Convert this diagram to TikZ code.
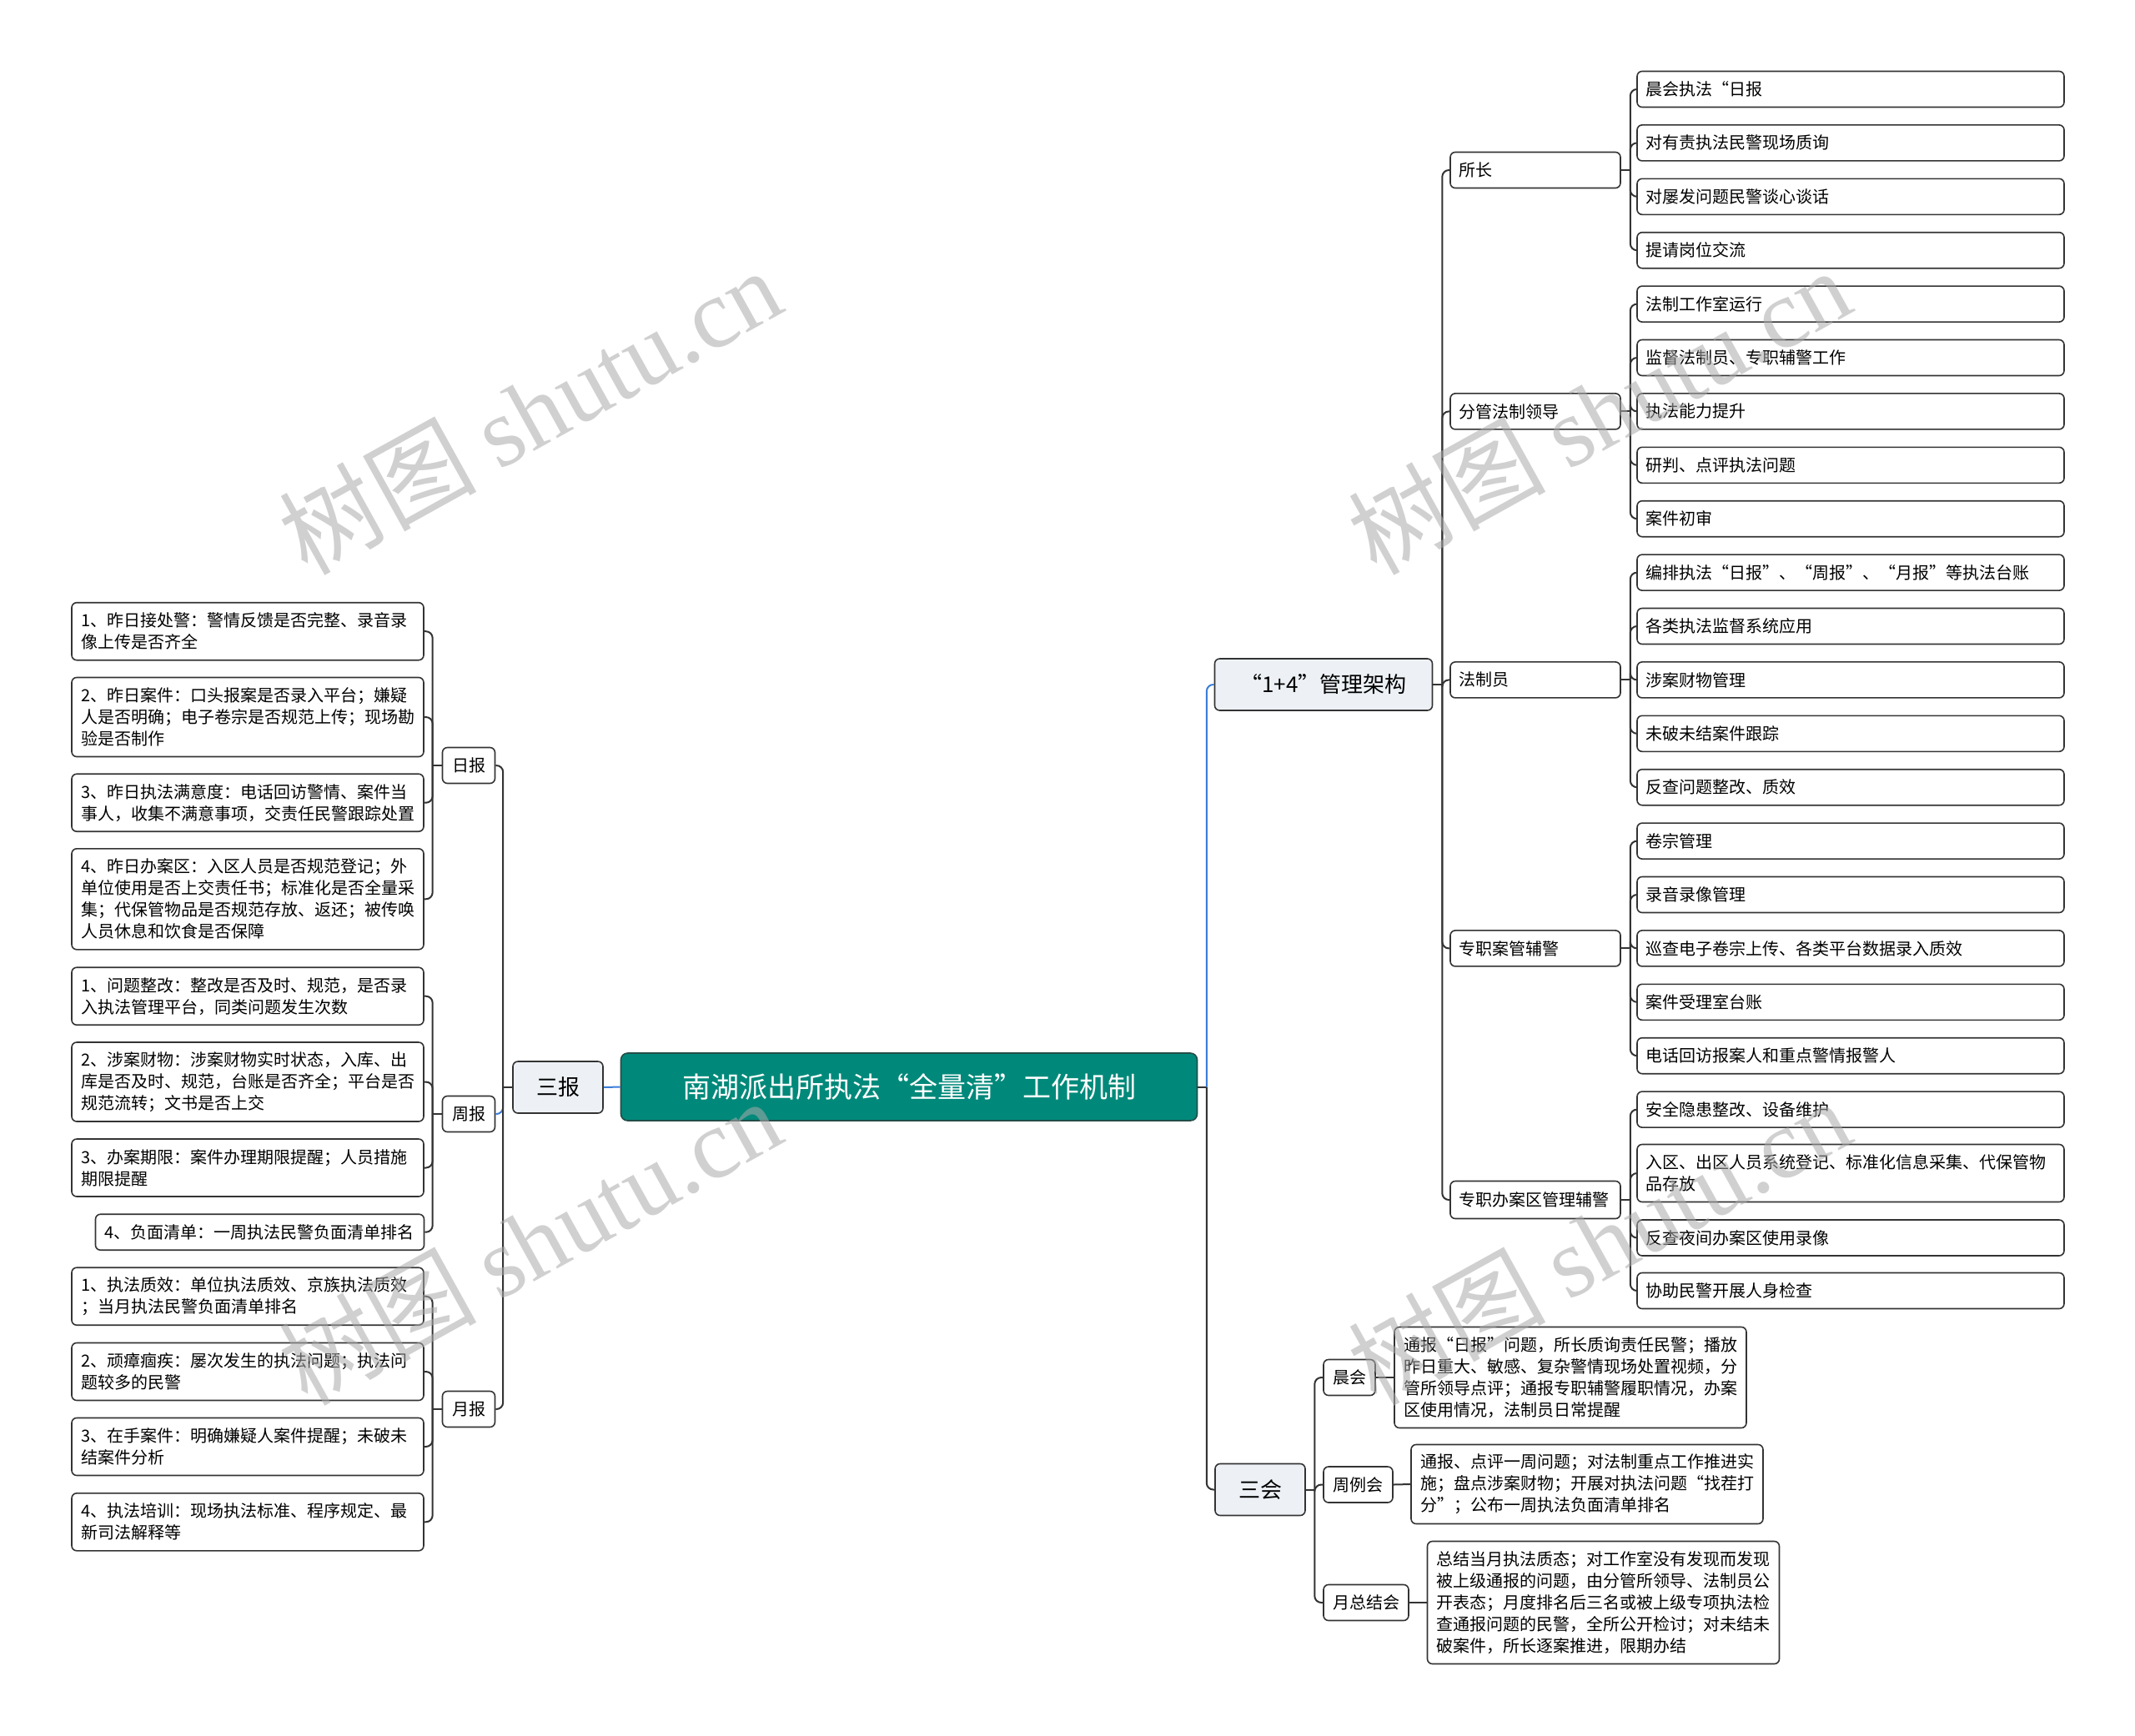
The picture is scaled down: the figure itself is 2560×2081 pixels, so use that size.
\documentclass[tikz,border=0pt]{standalone}
\usepackage{fontspec}
\setmainfont{Noto Sans CJK SC}
\newfontfamily\wmlatin{Liberation Serif}
\usetikzlibrary{calc}
\definecolor{lineDark}{HTML}{333333}
\definecolor{lineBlue}{HTML}{3B7DD8}
\definecolor{rootFill}{HTML}{00897A}
\definecolor{mainFill}{HTML}{EDF1F6}
\definecolor{wmGray}{HTML}{ABABAB}
\tikzset{
  basebox/.style={draw=lineDark, line width=1.6pt, rounded corners=6pt, inner sep=0pt, fill=white},
  leafbox/.style 2 args={basebox, font=\fontsize{20}{26}\selectfont, align=left,
     inner xsep=11pt, text width=#1, minimum height=#2},
  midbox/.style={basebox, font=\fontsize{20}{26}\selectfont, minimum width=#1, minimum height=43pt},
  mainbox/.style={basebox, fill=mainFill, font=\fontsize{26}{30}\selectfont, minimum width=#1, minimum height=62pt},
  conn/.style={draw=lineDark, line width=2pt},
  blueconn/.style={draw=lineBlue, line width=2pt},
  rc/.style={rounded corners=8pt},
  wm/.style={text=wmGray, text opacity=0.55, font=\fontsize{118}{118}\selectfont, rotate=29, anchor=base, inner sep=0pt}
}
\begin{document}
\begin{tikzpicture}[x=1pt,y=-1pt]
\fill[white] (0,0) rectangle (2560,2081);
\useasboundingbox (0,0) rectangle (2560,2081);

% root and main branches
\node[basebox, fill=rootFill, draw=lineDark!70!rootFill, rounded corners=8pt, text=white,
      font=\fontsize{34}{40}\selectfont, minimum width=691pt, minimum height=81pt]
      (root) at (1090,1303.5) {南湖派出所执法“全量清”工作机制};
\node[mainbox=108pt] (sanbao) at (669,1304) {三报};
\node[mainbox=261pt] (p14) at (1587,821) {“1+4”管理架构};
\node[mainbox=108pt] (sanhui) at (1511,1786.5) {三会};

% left: 三报
\node[midbox=63pt] (ribao) at (562,918) {日报};
\node[midbox=63pt] (zhoubao) at (562,1336) {周报};
\node[midbox=63pt] (yuebao) at (562,1690) {月报};

\node[leafbox={400pt}{69pt}] (d1) at (297,757.2) {1、昨日接处警：警情反馈是否完整、录音录\\像上传是否齐全};
\node[leafbox={400pt}{95pt}] (d2) at (297,860) {2、昨日案件：口头报案是否录入平台；嫌疑\\人是否明确；电子卷宗是否规范上传；现场勘\\验是否制作};
\node[leafbox={400pt}{69pt}] (d3) at (297,962.7) {3、昨日执法满意度：电话回访警情、案件当\\事人，收集不满意事项，交责任民警跟踪处置};
\node[leafbox={400pt}{121pt}] (d4) at (297,1078.3) {4、昨日办案区：入区人员是否规范登记；外\\单位使用是否上交责任书；标准化是否全量采\\集；代保管物品是否规范存放、返还；被传唤\\人员休息和饮食是否保障};

\node[leafbox={400pt}{69pt}] (w1) at (297,1194.7) {1、问题整改：整改是否及时、规范，是否录\\入执法管理平台，同类问题发生次数};
\node[leafbox={400pt}{95pt}] (w2) at (297,1297.5) {2、涉案财物：涉案财物实时状态，入库、出\\库是否及时、规范，台账是否齐全；平台是否\\规范流转；文书是否上交};
\node[leafbox={400pt}{69pt}] (w3) at (297,1400.5) {3、办案期限：案件办理期限提醒；人员措施\\期限提醒};
\node[leafbox={372pt}{43pt}] (w4) at (311.5,1477.7) {4、负面清单：一周执法民警负面清单排名};

\node[leafbox={400pt}{69pt}] (m1) at (297,1554.7) {1、执法质效：单位执法质效、京族执法质效\\；当月执法民警负面清单排名};
\node[leafbox={400pt}{69pt}] (m2) at (297,1645) {2、顽瘴痼疾：屡次发生的执法问题；执法问\\题较多的民警};
\node[leafbox={400pt}{69pt}] (m3) at (297,1735) {3、在手案件：明确嫌疑人案件提醒；未破未\\结案件分析};
\node[leafbox={400pt}{69pt}] (m4) at (297,1825.3) {4、执法培训：现场执法标准、程序规定、最\\新司法解释等};

% right: 1+4
\node[leafbox={183pt}{43pt}, inner xsep=10.5pt] (sz) at (1841,204) {所长};
\node[leafbox={183pt}{43pt}, inner xsep=10.5pt] (fg) at (1841,493.4) {分管法制领导};
\node[leafbox={183pt}{43pt}, inner xsep=10.5pt] (fzy) at (1841,815.4) {法制员};
\node[leafbox={183pt}{43pt}, inner xsep=10.5pt] (ag) at (1841,1137.4) {专职案管辅警};
\node[leafbox={183pt}{45pt}, inner xsep=10.5pt] (baq) at (1841,1439) {专职办案区管理辅警};

\tikzset{rleaf/.style={leafbox={492pt}{43pt}, inner xsep=10pt}}
\node[rleaf] (r0) at (2219,107) {晨会执法“日报};
\node[rleaf] (r1) at (2219,171.4) {对有责执法民警现场质询};
\node[rleaf] (r2) at (2219,235.8) {对屡发问题民警谈心谈话};
\node[rleaf] (r3) at (2219,300.2) {提请岗位交流};
\node[rleaf] (r4) at (2219,364.6) {法制工作室运行};
\node[rleaf] (r5) at (2219,429) {监督法制员、专职辅警工作};
\node[rleaf] (r6) at (2219,493.4) {执法能力提升};
\node[rleaf] (r7) at (2219,557.8) {研判、点评执法问题};
\node[rleaf] (r8) at (2219,622.2) {案件初审};
\node[rleaf] (r9) at (2219,686.6) {编排执法“日报”、“周报”、“月报”等执法台账};
\node[rleaf] (r10) at (2219,751) {各类执法监督系统应用};
\node[rleaf] (r11) at (2219,815.4) {涉案财物管理};
\node[rleaf] (r12) at (2219,879.8) {未破未结案件跟踪};
\node[rleaf] (r13) at (2219,944.2) {反查问题整改、质效};
\node[rleaf] (r14) at (2219,1008.6) {卷宗管理};
\node[rleaf] (r15) at (2219,1073) {录音录像管理};
\node[rleaf] (r16) at (2219,1137.4) {巡查电子卷宗上传、各类平台数据录入质效};
\node[rleaf] (r17) at (2219,1201.8) {案件受理室台账};
\node[rleaf] (r18) at (2219,1266.2) {电话回访报案人和重点警情报警人};
\node[rleaf] (r19) at (2219,1330.6) {安全隐患整改、设备维护};
\node[rleaf, minimum height=69pt] (r20) at (2219,1407) {入区、出区人员系统登记、标准化信息采集、代保管物\\品存放};
\node[rleaf] (r21) at (2219,1484.5) {反查夜间办案区使用录像};
\node[rleaf] (r22) at (2219,1548) {协助民警开展人身检查};

% right: 三会
\node[midbox=62pt] (chenhui) at (1618,1652) {晨会};
\node[midbox=83pt] (zhouli) at (1628.5,1780.5) {周例会};
\node[midbox=102pt] (yuezong) at (1638,1922) {月总结会};
\node[leafbox={400pt}{121pt}] (chC) at (1883,1652) {通报“日报”问题，所长质询责任民警；播放\\昨日重大、敏感、复杂警情现场处置视频，分\\管所领导点评；通报专职辅警履职情况，办案\\区使用情况，法制员日常提醒};
\node[leafbox={400pt}{95pt}] (zlC) at (1903,1780) {通报、点评一周问题；对法制重点工作推进实\\施；盘点涉案财物；开展对执法问题“找茬打\\分”；公布一周执法负面清单排名};
\node[leafbox={400pt}{147pt}] (yzC) at (1922.5,1922) {总结当月执法质态；对工作室没有发现而发现\\被上级通报的问题，由分管所领导、法制员公\\开表态；月度排名后三名或被上级专项执法检\\查通报问题的民警，全所公开检讨；对未结未\\破案件，所长逐案推进，限期办结};

% ---------- connectors ----------
% root to main branches
\draw[blueconn] (root.west) -- (sanbao.east);
\draw[conn] (root.east) -- ++(10.5,0) coordinate (rtJ);
\draw[conn, rc] (rtJ) |- (sanhui.west);
\draw[blueconn, rc] (rtJ) |- (p14.west);

% 三报
\draw[conn] (sanbao.west) -- ++(-11,0) coordinate (sbJ);
\draw[blueconn, rc] (sbJ) |- (zhoubao.east);
\draw[conn, rc] (sbJ) |- (ribao.east);
\draw[conn, rc] (sbJ) |- (yuebao.east);

\draw[conn] (ribao.west) -- ++(-11,0) coordinate (rbJ);
\foreach \c in {d1,d2,d3,d4} \draw[conn, rc] (rbJ) |- (\c.east);
\draw[conn] (zhoubao.west) -- ++(-11,0) coordinate (zbJ);
\foreach \c in {w1,w2,w3,w4} \draw[conn, rc] (zbJ) |- (\c.east);
\draw[conn] (yuebao.west) -- ++(-11,0) coordinate (ybJ);
\foreach \c in {m1,m2,m3,m4} \draw[conn, rc] (ybJ) |- (\c.east);

% 1+4
\draw[conn] (p14.east) -- ++(11,0) coordinate (pJ);
\foreach \c in {sz,fg,fzy,ag,baq} \draw[conn, rc] (pJ) |- (\c.west);
\foreach \p/\a/\b in {sz/0/3, fg/4/8, fzy/9/13, ag/14/18, baq/19/22} {
  \draw[conn] (\p.east) -- ++(11,0) coordinate (\p-J);
  \foreach \i in {\a,...,\b} \draw[conn, rc] (\p-J) |- (r\i.west);
}

% 三会
\draw[conn] (sanhui.east) -- ++(10.5,0) coordinate (shJ);
\foreach \c in {chenhui,zhouli,yuezong} \draw[conn, rc] (shJ) |- (\c.west);
\draw[conn] (chenhui.east) -- (chC.west);
\draw[conn] (zhouli.east) -- (zlC.west);
\draw[conn] (yuezong.east) -- (yzC.west);

% ---------- watermarks ----------
\node[wm] (wm1) at (657,532) {树图 {\wmlatin shutu.cn}};
\node[wm] (wm2) at (1939,532) {树图 {\wmlatin shutu.cn}};
\node[wm] (wm3) at (657,1528) {树图 {\wmlatin shutu.cn}};
\node[wm] (wm4) at (1939,1528) {树图 {\wmlatin shutu.cn}};
\end{tikzpicture}
\end{document}
